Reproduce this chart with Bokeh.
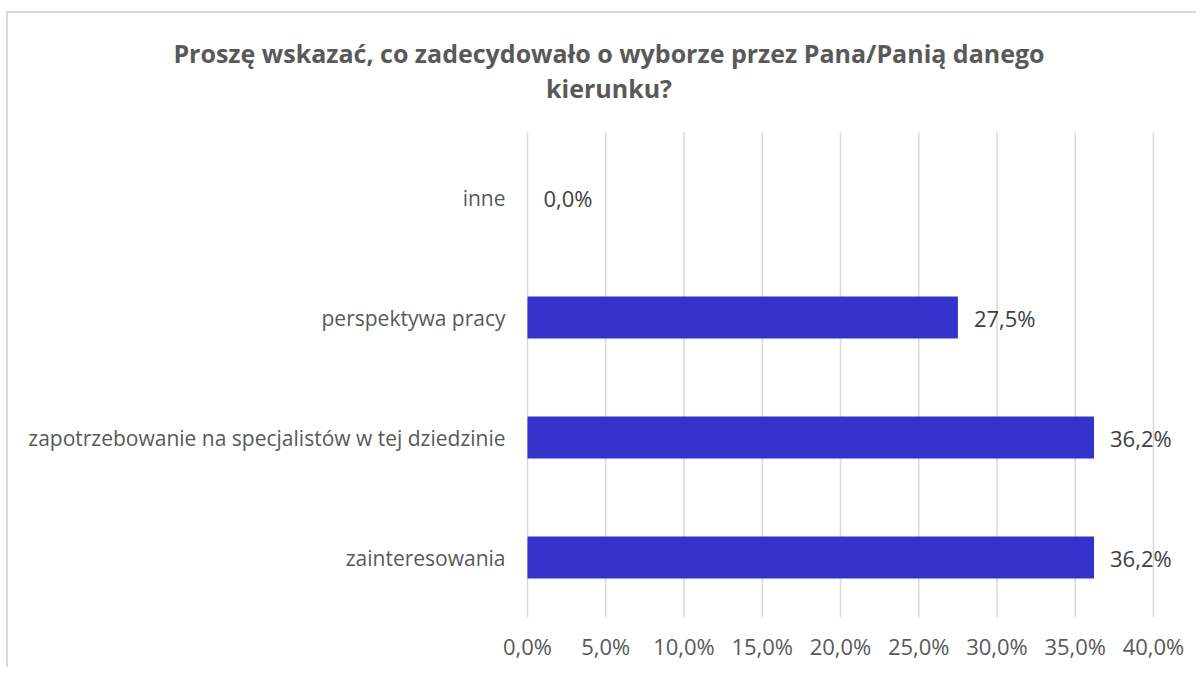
from bokeh.plotting import figure
from bokeh.models import ColumnDataSource, Range1d, FixedTicker
from bokeh.core.properties import value
from bokeh.embed import file_html
from bokeh.resources import INLINE

title_lines = ["Proszę wskazać, co zadecydowało o wyborze przez Pana/Panią danego", "kierunku?"]
categories = ["zainteresowania", "zapotrzebowanie na specjalistów w tej dziedzinie", "perspektywa pracy", "inne"]
values = [36.2, 36.2, 27.5, 0.0]
x_ticks = [0, 5, 10, 15, 20, 25, 30, 35, 40]
x_tick_labels = ["0,0%", "5,0%", "10,0%", "15,0%", "20,0%", "25,0%", "30,0%", "35,0%", "40,0%"]

FONT = "Open Sans"
GREY = "#595959"

pos = list(range(len(categories)))
labels = [f"{v:.1f}".replace(".", ",") + "%" for v in values]
src = ColumnDataSource(dict(pos=pos, val=values, lab=labels, cat=categories,
                            zero=[0.0] * len(pos)))

W, H = 1190, 656
ML, MR, MT, MB = 0, 8, 17, 52
PLOT_LEFT = 519          # canvas px where 0 % sits
px_per_unit_x = 626 / 40.0
px_per_row = 120.0
x_start = -PLOT_LEFT / px_per_unit_x
x_end = (W - ML - MR - PLOT_LEFT) / px_per_unit_x
y_start = -0.5
y_end = y_start + (H - MT - MB) / px_per_row

p = figure(
    width=W, height=H,
    x_range=Range1d(x_start, x_end), y_range=Range1d(y_start, y_end),
    output_backend="svg", toolbar_location=None,
    min_border_left=ML, min_border_right=MR, min_border_top=MT, min_border_bottom=MB,
)
p.margin = (11, 0, 0, 6)
p.styles = {"border-left": "2px solid #D9D9D9", "border-top": "2px solid #D9D9D9"}
p.outline_line_color = None
p.background_fill_color = "white"
p.border_fill_color = "white"
p.xgrid.grid_line_color = None
p.ygrid.grid_line_color = None
p.yaxis.visible = False

# gridlines
grid_top = 3.5 + 5 / px_per_row
p.segment(x0=x_ticks, y0=[y_start] * len(x_ticks), x1=x_ticks, y1=[grid_top] * len(x_ticks),
          line_color="#D9D9D9", line_width=1.5)

p.hbar(y="pos", right="val", left=0, height=0.35, source=src, color="#3333CC", line_color=None)
p.text(x="val", y="pos", text="lab", source=src, x_offset=16,
       text_align="left", text_baseline="middle", text_font=value(FONT),
       text_font_size="22px", text_color="#404040")

# category labels (drawn as text so the frame can hold the title)
p.text(x="zero", y="pos", text="cat", source=src, x_offset=-22,
       text_align="right", text_baseline="middle", text_font=value(FONT),
       text_font_size="21px", text_color=GREY)

# title
title_x = (608.5 - 527) / px_per_unit_x
title_y = [y_start + (617 - 52) / px_per_row, y_start + (617 - 87) / px_per_row]
p.text(x=[title_x] * 2, y=title_y, text=title_lines, text_align="center", text_baseline="middle",
       text_font=value(FONT), text_font_size="25px", text_font_style="bold", text_color=GREY)

p.xaxis.ticker = FixedTicker(ticks=x_ticks)
p.xaxis.major_label_overrides = {float(t): l for t, l in zip(x_ticks, x_tick_labels)}
p.xaxis.axis_line_color = None
p.xaxis.major_tick_line_color = None
p.xaxis.minor_tick_line_color = None
p.xaxis.major_label_standoff = 7
p.xaxis.major_label_text_font = FONT
p.xaxis.major_label_text_font_size = "22px"
p.xaxis.major_label_text_color = GREY

open("out.html", "w").write(file_html(p, INLINE))
